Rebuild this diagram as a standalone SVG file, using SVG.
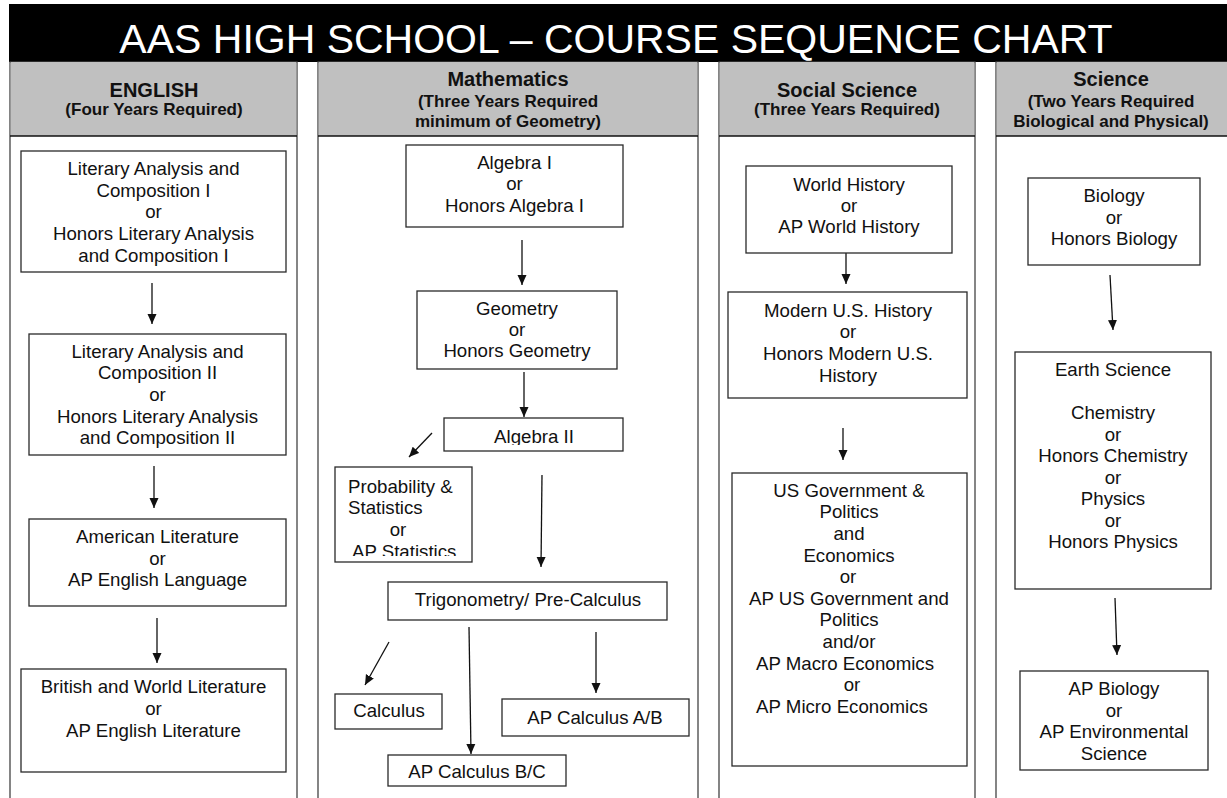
<svg xmlns="http://www.w3.org/2000/svg" width="1227" height="798" viewBox="0 0 1227 798">
<style>
text{font-family:"Liberation Sans",Arial,sans-serif;fill:#111}
.t{font-size:18.67px;text-anchor:middle}
.hd{font-size:20px;font-weight:bold;text-anchor:middle}
.hs{font-size:17px;font-weight:bold;text-anchor:middle}
.box{fill:#fff;stroke:#2a2a2a;stroke-width:1.3}
.col{fill:#fff;stroke:#444;stroke-width:1.3}
.hdr{fill:#c0c0c0}
.hline{stroke:#111;stroke-width:1.3}
.cn{stroke:#111;stroke-width:1.3;fill:none;marker-end:url(#ah)}
</style>
<defs>
<marker id="ah" viewBox="0 0 10 10" refX="10" refY="5" markerWidth="10" markerHeight="10" markerUnits="userSpaceOnUse" orient="auto">
<path d="M0,0.5 L10,5 L0,9.5 z" fill="#111"/>
</marker>
<clipPath id="clipAlg2"><rect x="440" y="415" width="190" height="30"/></clipPath>
<clipPath id="clipPS"><rect x="330" y="465" width="150" height="91"/></clipPath>
</defs>
<rect width="1227" height="798" fill="#fff"/>
<g id="banner">
<rect x="9" y="4" width="1218" height="58" fill="#000"/>
<text x="616" y="53" style="font-size:41px;fill:#fff;text-anchor:middle">AAS HIGH SCHOOL – COURSE SEQUENCE CHART</text>
</g>
<g id="columns">
<g id="col-english">
<rect class="col" x="10" y="62" width="287" height="745"/>
<rect class="hdr" x="10.7" y="62" width="285.6" height="74"/>
<line class="hline" x1="10" y1="136" x2="297" y2="136"/>
<text class="hd" x="154" y="97">ENGLISH</text>
<text class="hs" x="154" y="115">(Four Years Required)</text>
</g>
<g id="col-math">
<rect class="col" x="318" y="62" width="380" height="745"/>
<rect class="hdr" x="318.7" y="62" width="378.6" height="74"/>
<line class="hline" x1="318" y1="136" x2="698" y2="136"/>
<text class="hd" x="508" y="86">Mathematics</text>
<text class="hs" x="508" y="107">(Three Years Required</text>
<text class="hs" x="508" y="127">minimum of Geometry)</text>
</g>
<g id="col-social">
<rect class="col" x="719" y="62" width="256" height="745"/>
<rect class="hdr" x="719.7" y="62" width="254.6" height="74"/>
<line class="hline" x1="719" y1="136" x2="975" y2="136"/>
<text class="hd" x="847" y="97">Social Science</text>
<text class="hs" x="847" y="115">(Three Years Required)</text>
</g>
<g id="col-science">
<rect class="col" x="996" y="62" width="240" height="745"/>
<rect class="hdr" x="996.7" y="62" width="238" height="74"/>
<line class="hline" x1="996" y1="136" x2="1227" y2="136"/>
<text class="hd" x="1111" y="86">Science</text>
<text class="hs" x="1111" y="107">(Two Years Required</text>
<text class="hs" x="1111" y="127">Biological and Physical)</text>
</g>
</g>
<g id="connectors">
<line class="cn" x1="152" y1="283" x2="152" y2="324"/>
<line class="cn" x1="154" y1="466" x2="154" y2="508"/>
<line class="cn" x1="157" y1="618" x2="157" y2="663"/>
<line class="cn" x1="522" y1="240" x2="522" y2="285"/>
<line class="cn" x1="524" y1="372" x2="524" y2="417"/>
<line class="cn" x1="432" y1="433" x2="409" y2="457"/>
<line class="cn" x1="542" y1="475" x2="541" y2="567"/>
<line class="cn" x1="389" y1="642" x2="365" y2="685"/>
<line class="cn" x1="469" y1="627" x2="471" y2="754"/>
<line class="cn" x1="596" y1="632" x2="596" y2="693"/>
<line class="cn" x1="846" y1="253" x2="846" y2="284"/>
<line class="cn" x1="843" y1="428" x2="843" y2="460"/>
<line class="cn" x1="1110" y1="275" x2="1113" y2="330"/>
<line class="cn" x1="1115" y1="598" x2="1117" y2="655"/>
</g>
<g id="eng1">
<rect class="box" x="21" y="151" width="265" height="121"/>
<text class="t" x="153.5" y="175">Literary Analysis and</text>
<text class="t" x="153.5" y="197">Composition I</text>
<text class="t" x="153.5" y="218">or</text>
<text class="t" x="153.5" y="240">Honors Literary Analysis</text>
<text class="t" x="153.5" y="262">and Composition I</text>
</g>
<g id="eng2">
<rect class="box" x="29" y="334" width="257" height="121"/>
<text class="t" x="157.5" y="358">Literary Analysis and</text>
<text class="t" x="157.5" y="379">Composition II</text>
<text class="t" x="157.5" y="401">or</text>
<text class="t" x="157.5" y="423">Honors Literary Analysis</text>
<text class="t" x="157.5" y="444">and Composition II</text>
</g>
<g id="eng3">
<rect class="box" x="29" y="519" width="257" height="87"/>
<text class="t" x="157.5" y="543">American Literature</text>
<text class="t" x="157.5" y="565">or</text>
<text class="t" x="157.5" y="586">AP English Language</text>
</g>
<g id="eng4">
<rect class="box" x="21" y="669" width="265" height="103"/>
<text class="t" x="153.5" y="693">British and World Literature</text>
<text class="t" x="153.5" y="715">or</text>
<text class="t" x="153.5" y="737">AP English Literature</text>
</g>
<g id="alg1">
<rect class="box" x="406" y="145" width="217" height="82"/>
<text class="t" x="514.5" y="169">Algebra I</text>
<text class="t" x="514.5" y="190">or</text>
<text class="t" x="514.5" y="212">Honors Algebra I</text>
</g>
<g id="geom">
<rect class="box" x="417" y="291" width="200" height="78"/>
<text class="t" x="517" y="315">Geometry</text>
<text class="t" x="517" y="336">or</text>
<text class="t" x="517" y="357">Honors Geometry</text>
</g>
<g id="alg2">
<rect class="box" x="444" y="418" width="179" height="33"/>
<text class="t" x="534" y="443.4" clip-path="url(#clipAlg2)">Algebra II</text>
</g>
<g id="probstat">
<rect class="box" x="335" y="467" width="137" height="95"/>
<g clip-path="url(#clipPS)">
<text style="font-size:18.67px" x="348" y="492.5">Probability &amp;</text>
<text style="font-size:18.67px" x="348" y="514">Statistics</text>
<text class="t" x="398" y="535.5">or</text>
<text style="font-size:18.67px" x="352" y="557.5">AP Statistics</text>
</g>
</g>
<g id="trig">
<rect class="box" x="388" y="582" width="279" height="38"/>
<text class="t" x="528" y="606">Trigonometry/ Pre-Calculus</text>
</g>
<g id="calc">
<rect class="box" x="335" y="694" width="107" height="35"/>
<text class="t" x="389" y="717">Calculus</text>
</g>
<g id="calcab">
<rect class="box" x="502" y="699" width="187" height="37"/>
<text class="t" x="595" y="724">AP Calculus A/B</text>
</g>
<g id="calcbc">
<rect class="box" x="388" y="755" width="178" height="31"/>
<text class="t" x="477" y="778">AP Calculus B/C</text>
</g>
<g id="world">
<rect class="box" x="746" y="166" width="206" height="87"/>
<text class="t" x="849" y="191">World History</text>
<text class="t" x="849" y="212">or</text>
<text class="t" x="849" y="233">AP World History</text>
</g>
<g id="modern">
<rect class="box" x="728" y="292" width="239" height="106"/>
<text class="t" x="848" y="317">Modern U.S. History</text>
<text class="t" x="848" y="338">or</text>
<text class="t" x="848" y="360">Honors Modern U.S.</text>
<text class="t" x="848" y="382">History</text>
</g>
<g id="gov">
<rect class="box" x="732" y="473" width="235" height="293"/>
<text class="t" x="849" y="497">US Government &amp;</text>
<text class="t" x="849" y="518">Politics</text>
<text class="t" x="849" y="540">and</text>
<text class="t" x="849" y="562">Economics</text>
<text class="t" x="848" y="583">or</text>
<text class="t" x="849" y="605">AP US Government and</text>
<text class="t" x="849" y="626">Politics</text>
<text class="t" x="849" y="648">and/or</text>
<text class="t" x="845" y="670">AP Macro Economics</text>
<text class="t" x="852" y="691">or</text>
<text class="t" x="842" y="713">AP Micro Economics</text>
</g>
<g id="bio">
<rect class="box" x="1028" y="178" width="172" height="87"/>
<text class="t" x="1114" y="202">Biology</text>
<text class="t" x="1114" y="223.5">or</text>
<text class="t" x="1114" y="245">Honors Biology</text>
</g>
<g id="physsci">
<rect class="box" x="1015" y="352" width="196" height="237"/>
<text class="t" x="1113" y="376">Earth Science</text>
<text class="t" x="1113" y="419">Chemistry</text>
<text class="t" x="1113" y="440.5">or</text>
<text class="t" x="1113" y="462">Honors Chemistry</text>
<text class="t" x="1113" y="483.5">or</text>
<text class="t" x="1113" y="505">Physics</text>
<text class="t" x="1113" y="526.5">or</text>
<text class="t" x="1113" y="548">Honors Physics</text>
</g>
<g id="apbio">
<rect class="box" x="1020" y="671" width="188" height="99"/>
<text class="t" x="1114" y="695">AP Biology</text>
<text class="t" x="1114" y="716.5">or</text>
<text class="t" x="1114" y="738">AP Environmental</text>
<text class="t" x="1114" y="759.5">Science</text>
</g>
</svg>
